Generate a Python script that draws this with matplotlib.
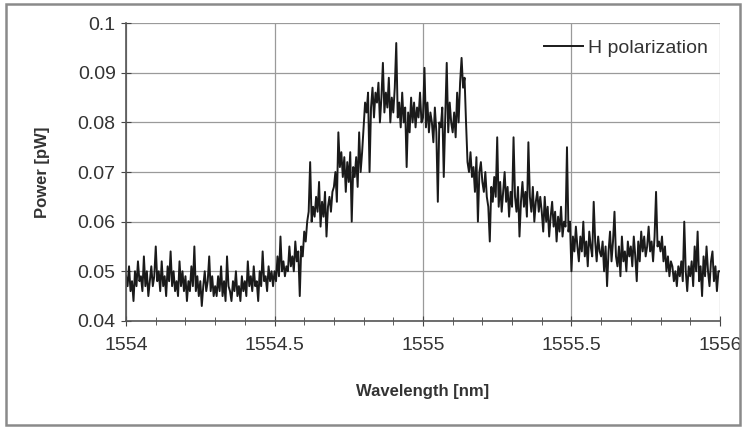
import numpy as np
import matplotlib
matplotlib.use("Agg")
import matplotlib.pyplot as plt
from matplotlib.ticker import MultipleLocator, FormatStrFormatter
from matplotlib.patches import Rectangle

# ==============
# data, power in units of 1e-3 pW
# one row = 0.1 nm, sampled every 0.005 nm
# ==============
wl_first = 1554.0
wl_last = 1556.0

power_e3 = [
    49, 47, 51, 46, 48, 44, 50, 47, 52, 48, 49, 46, 53, 47, 50, 45, 48, 51, 47, 49,
    55, 48, 50, 46, 52, 47, 49, 45, 51, 48, 54, 47, 50, 46, 48, 45, 52, 47, 50, 46,
    49, 44, 48, 46, 51, 47, 55, 46, 49, 45, 48, 43, 47, 50, 46, 48, 53, 46, 49, 45,
    47, 45, 49, 46, 51, 45, 48, 44, 53, 47, 46, 44, 48, 46, 50, 45, 47, 44, 49, 46,
    48, 45, 52, 47, 49, 46, 51, 47, 48, 44, 50, 47, 54, 48, 49, 46, 51, 48, 50, 47,
    50, 48, 53, 49, 57, 50, 52, 49, 51, 50, 55, 51, 53, 50, 56, 52, 54, 45, 55, 53,
    58, 56, 60, 62, 72, 60, 63, 61, 65, 62, 68, 59, 64, 61, 66, 57, 63, 65, 62, 66,
    67, 70, 64, 78, 71, 74, 69, 73, 66, 72, 68, 74, 60, 71, 69, 73, 67, 78, 70, 74,
    79, 84, 82, 86, 70, 83, 87, 81, 86, 84, 88, 80, 85, 92, 82, 86, 83, 89, 80, 85,
    82, 87, 96, 81, 84, 79, 86, 80, 83, 71, 82, 78, 85, 80, 84, 79, 83, 81, 86, 80,
    81, 91, 79, 84, 78, 82, 80, 76, 83, 78, 64, 80, 79, 83, 69, 81, 92, 78, 84, 80,
    78, 82, 77, 86, 80, 88, 93, 87, 89, 80, 72, 70, 74, 69, 71, 66, 73, 60, 70, 72,
    68, 66, 70, 65, 63, 56, 67, 64, 69, 65, 77, 63, 68, 62, 66, 70, 64, 67, 61, 66,
    63, 77, 65, 62, 67, 57, 64, 68, 63, 66, 61, 76, 65, 62, 67, 60, 64, 66, 62, 65,
    62, 58, 65, 60, 63, 57, 61, 64, 59, 62, 56, 61, 58, 63, 57, 60, 59, 75, 58, 60,
    50, 57, 54, 59, 55, 52, 57, 54, 60, 53, 56, 51, 58, 55, 53, 64, 56, 52, 57, 54,
    53, 56, 50, 55, 47, 54, 58, 52, 56, 62, 53, 51, 55, 49, 57, 52, 54, 50, 56, 53,
    55, 51, 57, 53, 48, 56, 52, 58, 54, 57, 53, 55, 59, 54, 56, 52, 57, 66, 55, 56,
    54, 57, 52, 55, 50, 53, 49, 52, 51, 48, 50, 47, 51, 49, 52, 48, 60, 50, 46, 51,
    49, 52, 47, 55, 50, 58, 48, 51, 45, 53, 49, 55, 50, 47, 52, 54, 48, 51, 46, 50,
    50,
]

wavelength = np.linspace(wl_first, wl_last, len(power_e3))
power = np.array(power_e3) / 1000.0

plt.rcParams["font.family"] = ["Liberation Sans", "DejaVu Sans"]

fig = plt.figure(figsize=(7.46, 4.29), dpi=100)
ax = fig.add_axes([0.169, 0.252, 0.796, 0.694])

ax.plot(wavelength, power, color="#1a1a1a", lw=1.4, label="H polarization")

ax.set_xlim(1554, 1556)
ax.set_ylim(0.04, 0.1)
ax.xaxis.set_major_locator(MultipleLocator(0.5))
ax.xaxis.set_minor_locator(MultipleLocator(0.1))
ax.yaxis.set_major_locator(MultipleLocator(0.01))
ax.xaxis.set_major_formatter(FormatStrFormatter("%g"))
ax.yaxis.set_major_formatter(FormatStrFormatter("%g"))

ax.grid(True, which="major", color="#9a9a9a", lw=0.9)
ax.set_axisbelow(True)
for s in ["top", "right"]:
    ax.spines[s].set_visible(False)
for s in ["left", "bottom"]:
    ax.spines[s].set_color("#555555")
    ax.spines[s].set_linewidth(1.2)

ax.tick_params(which="both", direction="inout", colors="#444444", labelcolor="#333333",
               labelsize=14)
ax.tick_params(which="major", length=7)
ax.tick_params(axis="x", which="major", pad=8)
ax.tick_params(axis="y", which="major", pad=4)
ax.tick_params(which="minor", length=6)

ax.set_xlabel("Wavelength [nm]", fontsize=12, fontweight="bold", color="#333333", labelpad=22)
ax.set_ylabel("Power [pW]", fontsize=12, fontweight="bold", color="#333333", labelpad=20)

ax.legend(loc="upper right", bbox_to_anchor=(1.0, 0.985), frameon=False, fontsize=14,
          handlelength=2.0, handletextpad=0.3, borderaxespad=0.2, labelcolor="#333333")

# outer frame around the whole chart
fig.patches.append(Rectangle((0.008, 0.01), 0.984, 0.98, transform=fig.transFigure,
                             fill=False, edgecolor="#8a8a8a", lw=1.8))

fig.savefig("out.png", dpi=100)
